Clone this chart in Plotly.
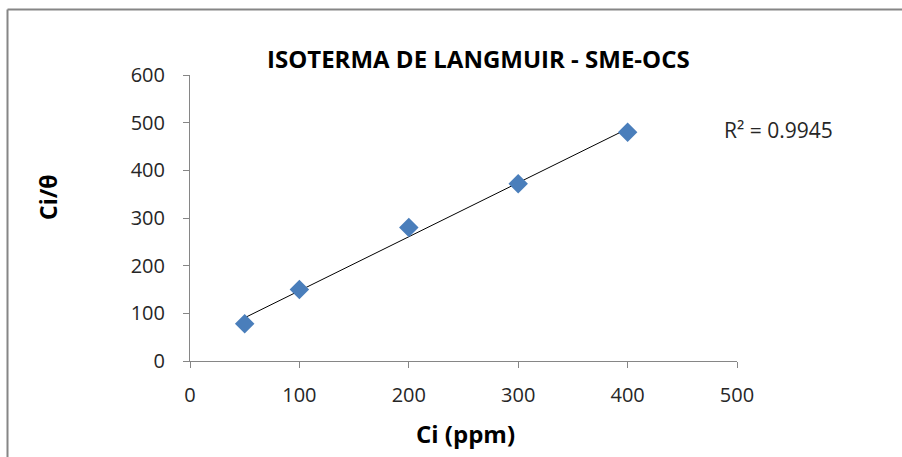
import numpy as np
import plotly.graph_objects as go

ci = [50, 100, 200, 300, 400]
ci_theta = [78, 150, 280, 372, 480]
r2_label = "R² = 0.9945"
title = "ISOTERMA DE LANGMUIR - SME-OCS"
x_title = "Ci (ppm)"
y_title = "Ci/θ"
x_ticks = [0, 100, 200, 300, 400, 500]
y_ticks = [0, 100, 200, 300, 400, 500, 600]

W, H = 902, 457
L, R, T, B = 190, 165, 75, 96
pw, ph = W - L - R, H - T - B

slope, intercept = np.polyfit(ci, ci_theta, 1)
fx = [min(ci), max(ci)]
fy = [slope * v + intercept for v in fx]

FONT = "Open Sans, Liberation Sans, sans-serif"

fig = go.Figure()
fig.add_trace(go.Scatter(x=fx, y=fy, mode="lines",
                         line=dict(color="#000000", width=1), hoverinfo="skip"))
fig.add_trace(go.Scatter(x=ci, y=ci_theta, mode="markers",
                         marker=dict(symbol="diamond", size=15, color="#4A7EBB",
                                     line=dict(width=0))))

def px_x(p):
    return (p - L) / pw

def px_y(p):
    return (H - B - p) / ph

fig.update_layout(
    width=W, height=H,
    margin=dict(l=L, r=R, t=T, b=B),
    paper_bgcolor="white", plot_bgcolor="white",
    showlegend=False,
    font=dict(family=FONT, color="#262626"),
    xaxis=dict(range=[0, 500], tickvals=x_ticks, showgrid=False, zeroline=False,
               showline=True, linecolor="#868686", linewidth=1,
               ticks="outside", ticklen=6, tickcolor="#868686",
               tickfont=dict(size=20, color="#262626"), ticklabelstandoff=10,
               fixedrange=True),
    yaxis=dict(range=[0, 600], tickvals=y_ticks, showgrid=False, zeroline=False,
               showline=True, linecolor="#868686", linewidth=1,
               ticks="outside", ticklen=6, tickcolor="#868686",
               tickfont=dict(size=20, color="#262626"), ticklabelstandoff=14,
               fixedrange=True),
    shapes=[
        dict(type="line", xref="paper", yref="paper",
             x0=px_x(7.5), x1=px_x(W + 5), y0=px_y(9.5), y1=px_y(9.5),
             line=dict(color="#868686", width=2)),
        dict(type="line", xref="paper", yref="paper",
             x0=px_x(7.5), x1=px_x(7.5), y0=px_y(9.5), y1=px_y(H + 5),
             line=dict(color="#868686", width=2)),
    ],
    annotations=[
        dict(text="<b>" + title + "</b>", xref="paper", yref="paper",
             x=px_x(478), y=px_y(59), showarrow=False,
             font=dict(size=24, color="#000000"), xanchor="center", yanchor="middle"),
        dict(text="<b>" + x_title + "</b>", xref="paper", yref="paper",
             x=px_x(465), y=px_y(433), showarrow=False,
             font=dict(size=24, color="#000000"), xanchor="center", yanchor="middle"),
        dict(text="<b>" + y_title + "</b>", xref="paper", yref="paper",
             x=px_x(48), y=px_y(198), showarrow=False, textangle=-90,
             font=dict(size=23, color="#000000"), xanchor="center", yanchor="middle"),
        dict(text=r2_label, xref="paper", yref="paper",
             x=px_x(722), y=px_y(130), showarrow=False,
             font=dict(size=21, color="#262626"), xanchor="left", yanchor="middle"),
    ],
)

fig.write_html("out.html")
